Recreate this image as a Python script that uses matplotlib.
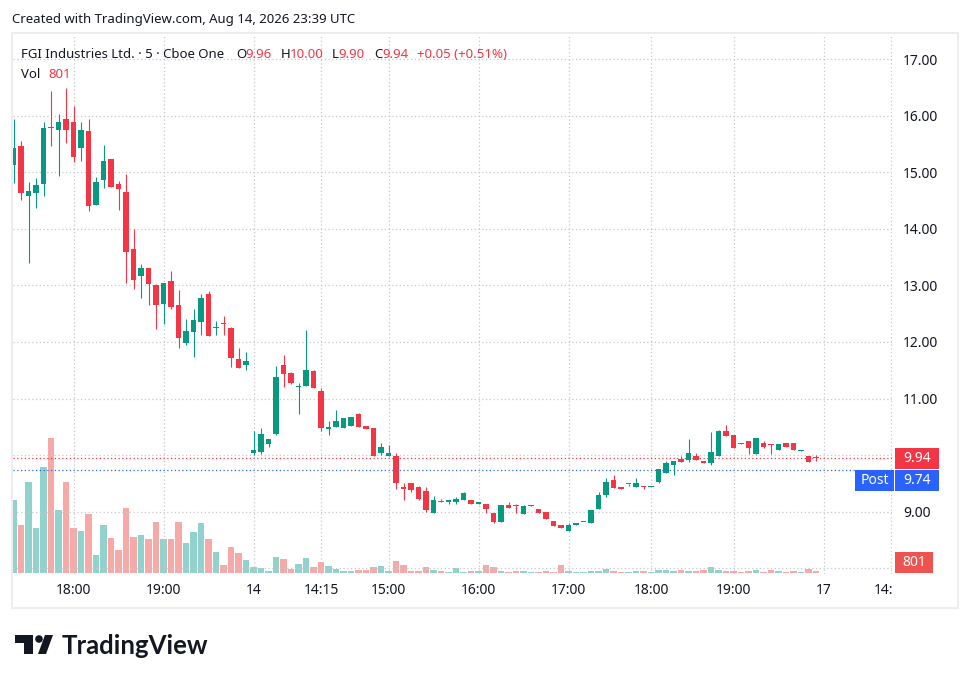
import matplotlib.pyplot as plt
import matplotlib.transforms as mtransforms
from matplotlib.patches import Rectangle, Polygon, Circle
import numpy as np

# 5-minute candles, FGI Industries (Cboe One)
opens = [15.13, 15.46, 14.58, 14.63, 14.79, 15.80, 15.75, 15.94, 15.90, 15.44,
         15.74, 14.43, 14.86, 15.23, 14.80, 14.66, 13.65, 13.17, 13.31, 13.01,
         12.68, 13.08, 12.65, 11.99, 12.18, 12.36, 12.85, 12.25, 12.33, 12.25,
         11.70, 11.59, 10.03, 10.05, 10.20, 10.37, 11.59, 11.45, 11.21, 11.23,
         11.48, 11.13, 10.46, 10.50, 10.48, 10.52, 10.72, 10.51, 10.47, 10.04,
         9.98, 9.99, 9.44, 9.51, 9.44, 9.37, 8.97, 9.19, 9.16, 9.16,
         9.20, 9.20, 9.14, 9.14, 8.98, 8.82, 9.11, 9.11, 8.95, 9.09,
         9.05, 9.00, 8.84, 8.77, 8.66, 8.77, 8.81, 8.79, 9.04, 9.29,
         9.55, 9.44, 9.48, 9.44, 9.45, 9.43, 9.52, 9.69, 9.82, 9.93,
         9.92, 9.98, 9.90, 9.85, 9.98, 10.42, 10.35, 10.21, 10.24, 10.01,
         10.21, 10.19, 10.08, 10.22, 10.22, 10.07, 9.99, 9.96]
highs = [15.94, 15.56, 14.84, 14.91, 15.90, 16.45, 16.04, 16.50, 16.17, 15.90,
         15.94, 14.92, 15.49, 15.23, 14.85, 14.98, 14.00, 13.38, 13.31, 13.03,
         13.05, 13.26, 12.92, 12.41, 12.58, 12.85, 12.90, 12.37, 12.46, 12.27,
         11.89, 11.82, 10.42, 10.48, 10.29, 11.57, 11.77, 11.47, 11.27, 12.21,
         11.50, 11.18, 10.60, 10.79, 10.65, 10.67, 10.74, 10.51, 10.47, 10.21,
         10.17, 10.03, 9.50, 9.51, 9.46, 9.44, 9.28, 9.23, 9.20, 9.25,
         9.35, 9.20, 9.15, 9.14, 8.98, 9.12, 9.16, 9.14, 9.12, 9.11,
         9.05, 9.00, 8.84, 8.77, 8.79, 8.80, 8.82, 9.02, 9.34, 9.60,
         9.64, 9.44, 9.49, 9.59, 9.45, 9.44, 9.75, 9.89, 9.89, 9.98,
         10.28, 10.03, 9.90, 10.40, 10.44, 10.53, 10.35, 10.21, 10.24, 10.30,
         10.24, 10.19, 10.19, 10.22, 10.22, 10.08, 9.99, 10.00]
lows = [14.82, 14.52, 13.39, 14.38, 14.58, 15.46, 14.94, 15.52, 15.18, 15.21,
        14.31, 14.43, 14.72, 14.75, 14.33, 13.05, 12.94, 12.77, 12.66, 12.23,
        12.31, 12.59, 11.90, 11.95, 11.74, 12.13, 12.11, 12.13, 12.13, 11.56,
        11.54, 11.51, 10.00, 10.02, 10.14, 10.35, 11.21, 11.26, 10.73, 11.23,
        11.19, 10.43, 10.35, 10.50, 10.48, 10.52, 10.50, 10.46, 9.98, 10.00,
        9.98, 9.40, 9.20, 9.34, 9.20, 8.99, 8.97, 9.17, 9.14, 9.14,
        9.20, 9.13, 9.14, 8.98, 8.80, 8.82, 9.07, 8.98, 8.95, 9.09,
        8.98, 8.86, 8.75, 8.70, 8.66, 8.77, 8.81, 8.79, 9.04, 9.25,
        9.41, 9.39, 9.45, 9.44, 9.39, 9.43, 9.50, 9.69, 9.64, 9.87,
        9.88, 9.92, 9.85, 9.83, 9.98, 10.33, 10.12, 10.19, 10.01, 10.01,
        10.12, 10.01, 10.08, 10.14, 10.08, 10.07, 9.87, 9.90]
closes = [15.44, 14.63, 14.68, 14.78, 15.78, 15.78, 15.90, 15.76, 15.27, 15.76,
          14.40, 14.84, 15.21, 14.75, 14.70, 13.60, 13.10, 13.31, 13.03, 12.66,
          13.05, 12.62, 12.07, 12.19, 12.39, 12.78, 12.11, 12.27, 12.31, 11.72,
          11.54, 11.66, 10.08, 10.37, 10.29, 11.38, 11.44, 11.28, 11.23, 11.50,
          11.19, 10.48, 10.50, 10.60, 10.65, 10.67, 10.50, 10.46, 9.98, 10.14,
          10.03, 9.50, 9.40, 9.38, 9.22, 9.02, 9.20, 9.17, 9.20, 9.23,
          9.33, 9.13, 9.15, 9.05, 8.82, 9.12, 9.07, 9.10, 9.09, 9.11,
          8.98, 8.86, 8.75, 8.70, 8.77, 8.80, 8.82, 9.02, 9.30, 9.53,
          9.41, 9.39, 9.49, 9.50, 9.43, 9.44, 9.75, 9.85, 9.89, 9.87,
          10.03, 9.92, 9.85, 10.05, 10.42, 10.33, 10.12, 10.19, 10.12, 10.30,
          10.15, 10.17, 10.19, 10.14, 10.08, 10.08, 9.87, 9.94]
volumes = [34200, 22400, 42600, 21000, 49700, 63300, 29500, 42600, 21000, 19600,
           27600, 8300, 22400, 16300, 10700, 30400, 16800, 17700, 15800, 23800,
           15800, 15800, 23800, 14000, 19100, 23400, 15800, 9700, 3600, 12100,
           9300, 6000, 2700, 2200, 800, 7400, 6400, 1700, 4100, 6900,
           2700, 5000, 3100, 1700, 800, 800, 1300, 1300, 2700, 3100,
           800, 5500, 3600, 800, 800, 2700, 1300, 800, 300, 2200,
           300, 800, 800, 3600, 2700, 800, 300, 800, 800, 300,
           300, 800, 300, 3600, 800, 300, 300, 800, 800, 1700,
           800, 300, 300, 800, 800, 300, 1300, 1300, 800, 1300,
           800, 800, 1300, 2700, 1300, 800, 800, 300, 800, 1300,
           300, 1300, 800, 300, 800, 300, 1700, 801]

time_ticks = [8, 20, 32, 41, 50, 62, 74, 85, 96, 108, 117]
time_labels = ['18:00', '19:00', '14', '14:15', '15:00', '16:00', '17:00',
               '18:00', '19:00', '17', '14:00']
bold_time = ['17']
price_ticks = [8, 9, 10, 11, 12, 13, 14, 15, 16, 17]
bold_price = [15]
last_price = 9.94
post_price = 9.74
last_volume = 801

GREEN = '#089981'
RED = '#F23645'
VGREEN = '#92D2CC'
VRED = '#F7A9A7'
BLUE = '#2962FF'
TXT = '#131722'
GRID = '#C8C8C8'

plt.rcParams['font.family'] = ['Noto Sans', 'DejaVu Sans']

W, H = 972, 683
fig = plt.figure(figsize=(W / 100, H / 100), dpi=100)
fig.patch.set_facecolor('white')


def frac(x0, y0, x1, y1):
    return [x0 / W, 1 - y1 / H, (x1 - x0) / W, (y1 - y0) / H]


pane = frac(13, 34, 892, 574)
ax_vol = fig.add_axes(pane)
ax = fig.add_axes(pane)
ax.patch.set_visible(False)
ax_vol.set_zorder(0)
ax.set_zorder(1)

idx = np.arange(len(opens))
o = np.array(opens)
c = np.array(closes)
up = c >= o
cols = np.where(up, GREEN, RED)
vcols = np.where(up, VGREEN, VRED)

# volume overlay
ax_vol.bar(idx, volumes, width=0.86, color=vcols, linewidth=0)
ax_vol.set_xlim(-0.067, 117.13)
ax_vol.set_ylim(-600, 253200)
ax_vol.axis('off')

# candles
ax.vlines(idx, lows, highs, colors=cols, linewidth=0.8, zorder=3)
body_lo = np.minimum(o, c)
body_h = np.maximum(np.abs(c - o), 0.02)
ax.bar(idx, body_h, bottom=body_lo, width=0.68, color=cols, linewidth=0, zorder=4)

ax.axhline(last_price, color=RED, linestyle=(0, (1, 2)), linewidth=0.9, zorder=2)
ax.axhline(post_price, color=BLUE, linestyle=(0, (1, 2)), linewidth=0.9, zorder=2)

ax.set_xlim(-0.067, 117.13)
ax.set_ylim(7.894, 17.451)
ax.set_xticks(time_ticks)
# 8.00 sits under the volume label in the original, so it has no visible text
ax.set_yticks(price_ticks, labels=['' if p == 8 else f'{p:.2f}' for p in price_ticks])
ax.yaxis.tick_right()
ax.tick_params(axis='x', length=0, labelbottom=False)
ax.tick_params(axis='y', length=0, pad=8, labelsize=10, labelcolor=TXT)
clip_right = mtransforms.TransformedBbox(
    mtransforms.Bbox.from_extents(939 / W, 0, 1, 1), fig.transFigure)
for lab, p in zip(ax.get_yticklabels(), price_ticks):
    if p in bold_price:
        lab.set_fontweight('bold')
    if p == 10:
        # mostly hidden behind the last-price label
        lab.set_clip_on(True)
        lab.set_clip_box(clip_right)
ax.grid(True, color=GRID, linestyle=(0, (1, 2)), linewidth=0.9, zorder=0)
ax.set_axisbelow(True)
for s in ax.spines.values():
    s.set_visible(False)

# time axis strip (clips the last label like the original)
ax_t = fig.add_axes(frac(13, 574, 892, 607), sharex=ax)
ax_t.axis('off')
ax_t.set_ylim(0, 1)
for p, lab in zip(time_ticks, time_labels):
    ax_t.text(p, 0.5, lab, ha='center', va='center', fontsize=10, color=TXT,
              fontweight='bold' if lab in bold_time else 'normal', clip_on=True)

# overlay in pixel coordinates for header, labels, frame and logo
ov = fig.add_axes([0, 0, 1, 1])
ov.set_xlim(0, W)
ov.set_ylim(H, 0)
ov.axis('off')
ov.patch.set_visible(False)
ov.set_zorder(5)

ov.add_patch(Rectangle((12, 33), 946, 575, fill=False, edgecolor='#EDEDED', linewidth=1.5))

ov.text(12, 20, 'Created with TradingView.com, Aug 14, 2026 23:39 UTC',
        fontsize=9.5, color=TXT, va='center', ha='left')

header = [(21, 'FGI Industries Ltd. · 5 · Cboe One', TXT),
          (236, 'O', TXT), (245.5, f'{opens[-1]:.2f}', RED),
          (281, 'H', TXT), (290, f'{highs[-1]:.2f}', RED),
          (332, 'L', TXT), (338.5, f'{lows[-1]:.2f}', RED),
          (374, 'C', TXT), (382.5, f'{closes[-1]:.2f}', RED),
          (417, '+0.05 (+0.51%)', RED)]
for x, s, col in header:
    ov.text(x, 54, s, fontsize=9.5, color=col, va='center', ha='left')
ov.text(21, 75, 'Vol', fontsize=9.5, color=TXT, va='center', ha='left')
ov.text(48, 75, f'{last_volume}', fontsize=9.5, color=RED, va='center', ha='left')

# price labels on the right scale
bt = mtransforms.blended_transform_factory(ov.transData, ax.transData)
bh = 21 / 56.5
ov.add_patch(Rectangle((895, last_price - bh / 2), 44, bh, transform=bt,
                       facecolor=RED, edgecolor='none', clip_on=False))
ov.text(917, last_price, f'{last_price:.2f}', transform=bt, ha='center',
        va='center', color='white', fontsize=10, clip_on=False)
ov.add_patch(Rectangle((855, post_price - bh), 39, bh, transform=bt,
                       facecolor=BLUE, edgecolor='none', clip_on=False))
ov.add_patch(Rectangle((895, post_price - bh), 44, bh, transform=bt,
                       facecolor=BLUE, edgecolor='none', clip_on=False))
ov.text(874.5, post_price - bh / 2, 'Post', transform=bt, ha='center',
        va='center', color='white', fontsize=10, clip_on=False)
ov.text(917, post_price - bh / 2, f'{post_price:.2f}', transform=bt, ha='center',
        va='center', color='white', fontsize=10, clip_on=False)

ov.add_patch(Rectangle((895, 552), 38, 21, facecolor='#EF5350', edgecolor='none'))
ov.text(914, 562.5, f'{last_volume}', ha='center', va='center', color='white', fontsize=10)

# TradingView logo
ov.add_patch(Polygon([(15, 635), (33, 635), (33, 654), (24, 654), (24, 643), (15, 643)],
                     closed=True, facecolor=TXT, edgecolor='none'))
ov.add_patch(Circle((39, 639), 3.8, facecolor=TXT, edgecolor='none'))
ov.add_patch(Polygon([(38, 654), (46, 654), (53, 635), (45, 635)],
                     closed=True, facecolor=TXT, edgecolor='none'))
ov.text(62, 646, 'TradingView', fontsize=18.5, fontweight='bold', color=TXT,
        va='center', ha='left', family=['Lato', 'DejaVu Sans'])

fig.savefig('out.png', dpi=100)
plt.close(fig)
